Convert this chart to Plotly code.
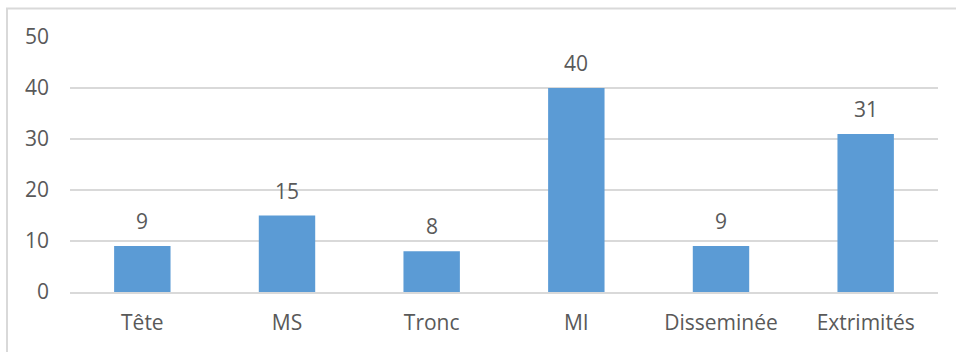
import plotly.graph_objects as go

categories = ["Tête", "MS", "Tronc", "MI", "Disseminée", "Extrimités"]
values = [9, 15, 8, 40, 9, 31]
y_ticks = [0, 10, 20, 30, 40, 50]

FONT = "Open Sans"
FS = 21
TXT = "#595959"
GRID = "#D9D9D9"

fig = go.Figure()
fig.add_trace(go.Bar(
    x=categories, y=values,
    marker=dict(color="#5B9BD5", line=dict(width=0)),
    width=0.39,
    hoverinfo="skip",
))

for c, v in zip(categories, values):
    fig.add_annotation(
        x=c, y=v, text=str(v), showarrow=False,
        yanchor="middle", yshift=25,
        font=dict(family=FONT, size=FS, color=TXT),
    )

fig.add_shape(
    type="rect", xref="paper", yref="paper",
    x0=-0.0726, x1=1.03, y0=-0.3, y1=1.112,
    line=dict(color=GRID, width=2), fillcolor="rgba(0,0,0,0)", layer="below",
)

fig.update_layout(
    width=956, height=352,
    margin=dict(l=70, r=18, t=37, b=60),
    plot_bgcolor="white", paper_bgcolor="white",
    showlegend=False,
    font=dict(family=FONT, size=FS, color=TXT),
    bargap=0.61,
)
fig.update_xaxes(
    showgrid=False, showline=True, linecolor=GRID, linewidth=2,
    ticks="", ticklabelstandoff=11,
    tickfont=dict(family=FONT, size=FS, color=TXT),
)
fig.update_yaxes(
    range=[0, 50], tickvals=y_ticks, showgrid=True, gridcolor=GRID, gridwidth=2,
    zeroline=False, showline=False, ticks="", ticklabelstandoff=20,
    tickfont=dict(family=FONT, size=FS, color=TXT),
)

fig.write_html("out.html")
